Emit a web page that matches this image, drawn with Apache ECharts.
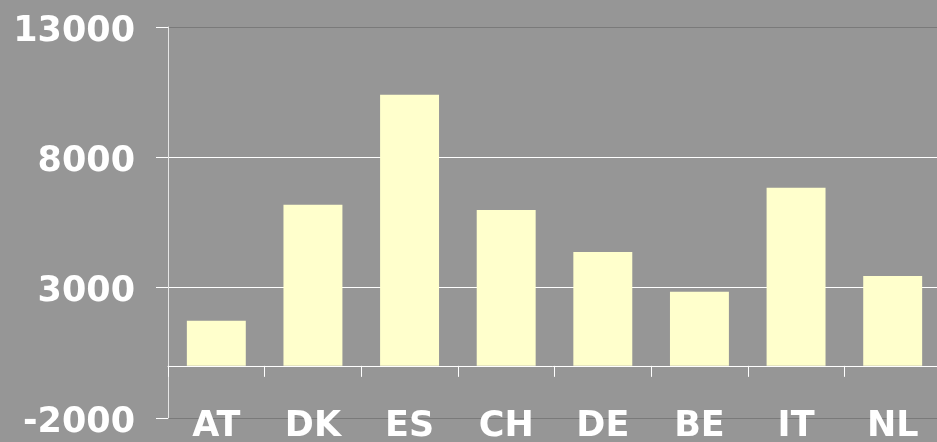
<!DOCTYPE html>
<html>
<head>
<meta charset="utf-8">
<script src="https://cdn.jsdelivr.net/npm/echarts@6/dist/echarts.min.js"></script>
<style>
html,body{margin:0;padding:0;background:#969696;}
#c{width:937px;height:442px;}
</style>
</head>
<body>
<div id="c"></div>
<script>
const categories = ['AT', 'DK', 'ES', 'CH', 'DE', 'BE', 'IT', 'NL'];
const values = [1730, 6180, 10400, 5980, 4370, 2840, 6830, 3450];
const yMin = -2000, yMax = 13000, yStep = 5000;

const chart = echarts.init(document.getElementById('c'));
const labelFont = {color: '#ffffff', fontFamily: 'DejaVu Sans', fontWeight: 'bold', fontSize: 35};
chart.setOption({
  backgroundColor: '#969696',
  animation: false,
  grid: {left: 168, right: -4, top: 27, bottom: 24, containLabel: false, outerBoundsMode: 'none'},
  xAxis: [
    {
      type: 'category', data: categories, position: 'bottom',
      axisLine: {show: true, onZero: true, lineStyle: {color: '#ffffff', width: 1}},
      axisTick: {show: true, length: 11, alignWithLabel: false, lineStyle: {color: '#ffffff'}},
      axisLabel: {show: false},
      splitLine: {show: false}
    },
    {
      type: 'category', data: categories, position: 'bottom',
      axisLine: {show: false, onZero: false},
      axisTick: {show: false},
      axisLabel: Object.assign({show: true, margin: 9, verticalAlign: 'middle', interval: 0}, labelFont),
      splitLine: {show: false}
    }
  ],
  yAxis: {
    type: 'value', min: yMin, max: yMax, interval: yStep,
    axisLine: {show: true, lineStyle: {color: '#e6e6e6', width: 1}},
    axisTick: {show: true, length: 12, lineStyle: {color: '#ffffff'}},
    axisLabel: Object.assign({
      margin: 33,
      verticalAlign: 'middle',
      formatter: v => '{n|' + String(v) + '}',
      rich: {n: Object.assign({padding: [9, 0, 0, 0]}, labelFont)}
    }, labelFont),
    splitLine: {show: true, lineStyle: {color: ['#7a7a7a', '#ffffff', '#ffffff', '#7a7a7a'], width: 1}}
  },
  series: [{
    type: 'bar', data: values, xAxisIndex: 0,
    barCategoryGap: '39%',
    itemStyle: {color: '#ffffcc'}
  }]
});
</script>
</body>
</html>
